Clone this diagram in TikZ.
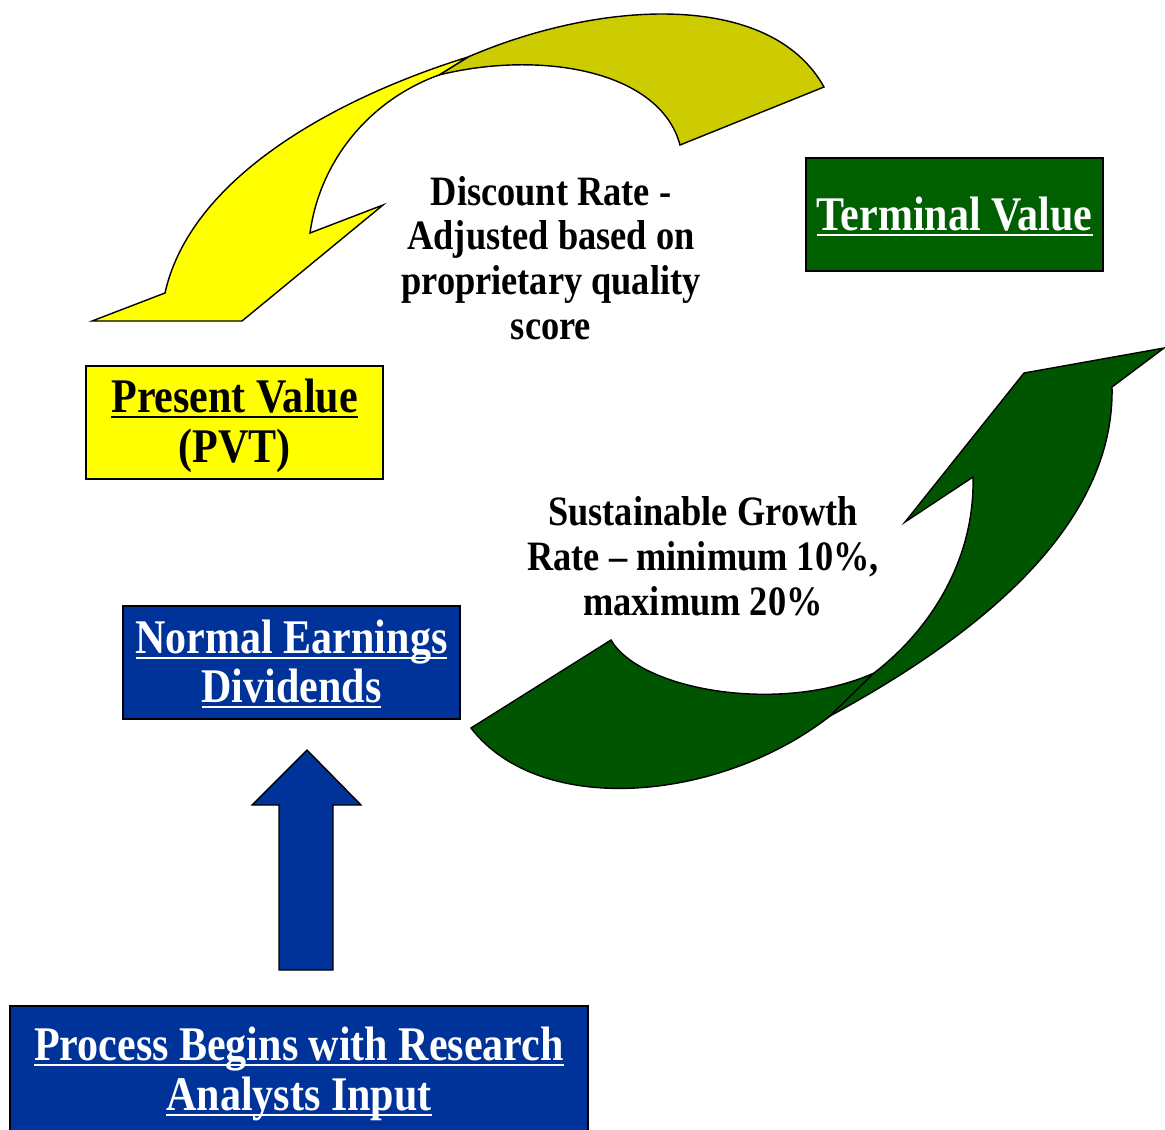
\documentclass[tikz,border=0pt]{standalone}
\usepackage{fontspec}
\setmainfont{Liberation Serif}[FakeStretch=0.87]
% underline drawn as a rule just below the baseline
\newcommand{\undl}[1]{\leavevmode\setbox0\hbox{#1}\rlap{\vrule height -2pt depth 3.1pt width \wd0}\box0}
\definecolor{pvyellow}{HTML}{FFFF00}
\definecolor{olive}{HTML}{CCCC00}
\definecolor{tvgreen}{HTML}{005F00}
\definecolor{arrowgreen}{HTML}{005500}
\definecolor{neblue}{HTML}{003399}
\tikzset{
  box/.style={draw=black, line width=1.1pt, inner sep=0pt, align=center,
    font=\fontsize{27.5}{28.35}\selectfont\bfseries},
  boxtext/.style={inner sep=0pt, align=center,
    font=\fontsize{27.5}{28.35}\selectfont\bfseries},
  lab/.style={align=center, inner sep=0pt, text=black,
    font=\fontsize{23.8}{25.5}\selectfont\bfseries},
  blockarrow/.style={draw=black, line width=0.8pt, line join=miter}
}
\begin{document}
\begin{tikzpicture}[x=0.02cm,y=-0.02cm]
\useasboundingbox (0,0) rectangle (1165,1129);

% curved discount-rate arrow: underside first, then the front face
\draw[blockarrow, fill=olive]
  (468,57) .. controls (600,0) and (770,-10) .. (824,87)
  -- (680,145) .. controls (660,70) and (540,50) .. (439,75) -- cycle;
\draw[blockarrow, fill=pvyellow]
  (92,321) -- (242,321) -- (383,205) -- (310,233)
  .. controls (320,160) and (370,100) .. (439,75) -- (468,57)
  .. controls (330,100) and (190,180) .. (165,293) -- cycle;

% curved growth arrow: lower band, then the rising part with its head
\draw[blockarrow, fill=arrowgreen]
  (471,728) -- (611,640) .. controls (640,690) and (780,715) .. (874,673)
  -- (830,716) .. controls (720,802) and (540,818) .. (471,728) -- cycle;
\draw[blockarrow, fill=arrowgreen]
  (830,716) .. controls (970,640) and (1115,530) .. (1112,387)
  -- (1164,348) -- (1024,373) -- (905,522) -- (973,477)
  .. controls (975,560) and (930,630) .. (874,673) -- cycle;

% straight up arrow from the research input
\draw[blockarrow, fill=neblue]
  (279,970) -- (279,805) -- (252,805) -- (307,750) -- (361,805)
  -- (333,805) -- (333,970) -- cycle;

% boxes, each with its caption set slightly below centre
\node[box, fill=tvgreen, minimum width=5.94cm, minimum height=2.26cm]
  (tv) at (954.5,214.5) {};
\node[boxtext, text=white] (tvtext) at ([yshift=-0.04cm]tv.center)
  {\undl{Terminal Value}};
\node[box, fill=pvyellow, minimum width=5.94cm, minimum height=2.26cm]
  (pv) at (234.5,422.5) {};
\node[boxtext, text=black] (pvtext) at ([yshift=-0.07cm]pv.center)
  {\undl{Present Value}\\(PVT)};
\node[box, fill=neblue, minimum width=6.74cm, minimum height=2.26cm]
  (ne) at (291.5,662.5) {};
\node[boxtext, text=white] (netext) at ([yshift=-0.03cm]ne.center)
  {\undl{Normal Earnings}\\\undl{Dividends}};
\node[box, fill=neblue, minimum width=11.56cm, minimum height=2.6cm]
  (pb) at (299,1071) {};
\node[boxtext, text=white] (pbtext) at ([yshift=-0.06cm]pb.center)
  {\undl{Process Begins with Research}\\\undl{Analysts Input}};

% arrow labels
\node[lab] (dr) at (551,258) {Discount Rate -\\Adjusted based on\\proprietary quality\\score};
\node[lab] (sg) at (703,556) {Sustainable Growth\\Rate -- minimum 10\%,\\maximum 20\%};
\end{tikzpicture}
\end{document}
